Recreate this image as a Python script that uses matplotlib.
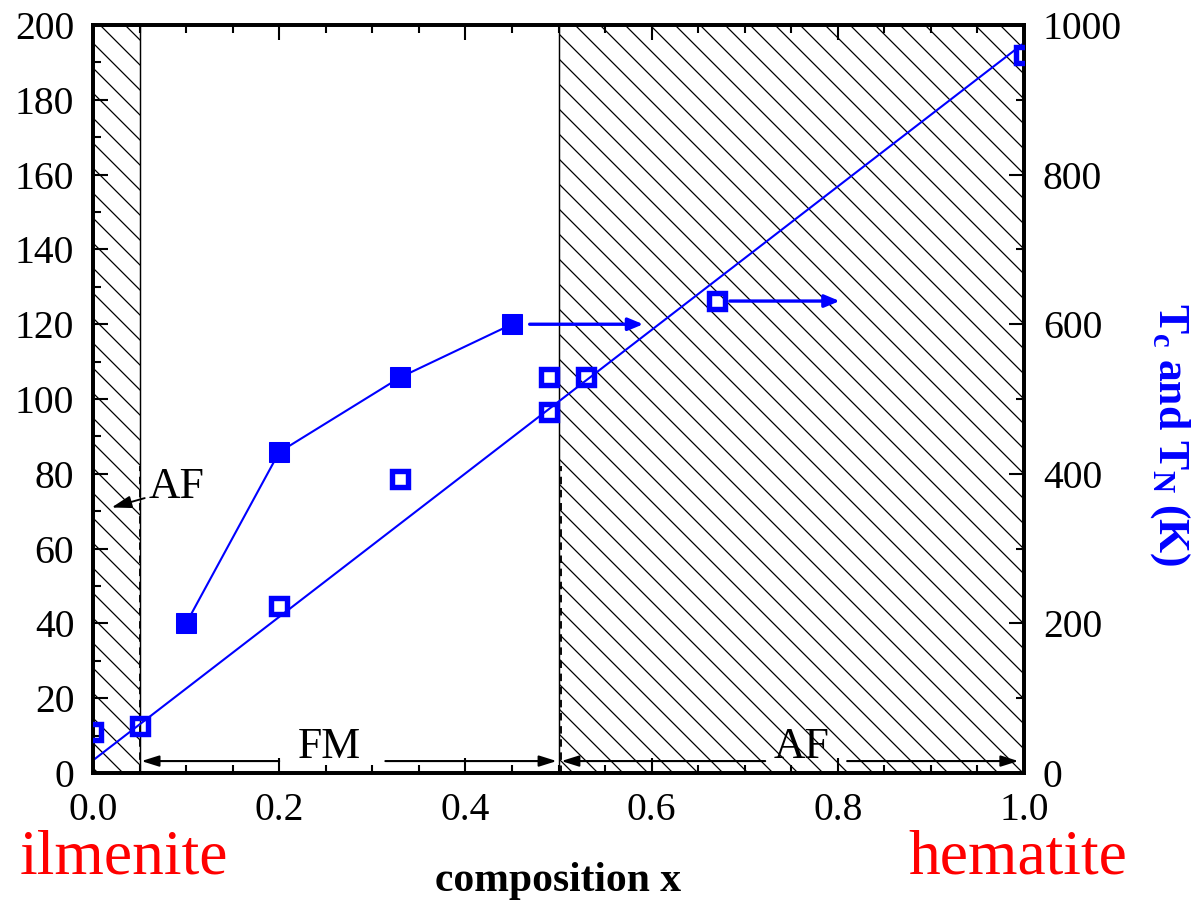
import numpy as np
import matplotlib
matplotlib.use("Agg")
import matplotlib.pyplot as plt
from matplotlib.ticker import MultipleLocator

plt.rcParams['font.family'] = ['Liberation Serif', 'DejaVu Serif']
plt.rcParams['mathtext.fontset'] = 'custom'
plt.rcParams['mathtext.rm'] = 'Liberation Serif'
plt.rcParams['mathtext.it'] = 'Liberation Serif:italic'
plt.rcParams['mathtext.bf'] = 'Liberation Serif:bold'
plt.rcParams['hatch.linewidth'] = 0.6

# ordering temperatures (K) vs composition x
x_filled = [0.10, 0.20, 0.33, 0.45]
t_filled = [200, 429, 529, 600]
x_open = [0.0, 0.05, 0.20, 0.33, 0.49, 0.49, 0.53, 0.67, 1.0]
t_open = [55, 63, 223, 393, 483, 529, 529, 631, 960]
# straight line through the open points
fit_x = [0.0, 1.0]
fit_t = [17, 976]

# phase regions (composition ranges)
af_low = (0.0, 0.05)
af_high = (0.5, 1.0)

# "-> right axis" arrows (tail x, head x, T)
arrow_tails = [0.469, 0.684]
arrow_heads = [0.591, 0.802]
arrow_t = [600, 631]

BLUE = (0, 0, 1)

fig = plt.figure(figsize=(1197 / 150, 907 / 150), dpi=150)
ax = fig.add_axes([0.0777, 0.1477, 0.7778, 0.8247])
ax2 = ax.twinx()

# hatched AF regions
for lo, hi in (af_low, af_high):
    ax.axvspan(lo, hi, facecolor='none', edgecolor='black', hatch='\\\\',
               lw=0.7, zorder=0)
ax.vlines([af_low[1], af_high[0] + 0.003], 0, 82, colors='black',
          linestyles=(0, (4, 3)), lw=0.9)

ax.set_xlim(0, 1.0)
ax.set_ylim(0, 200)
ax2.set_ylim(0, 1000)

# data on the temperature axis
ax2.plot(fit_x, fit_t, color=BLUE, lw=1.0, zorder=2)
ax2.plot(x_filled, t_filled, color=BLUE, lw=1.0, marker='s', ms=10,
         mfc=BLUE, mec=BLUE, mew=0.5, zorder=3)
ax2.plot(x_open, t_open, ls='none', marker='s', ms=7.4, mfc='none',
         mec=BLUE, mew=2.6, zorder=3)

for x0, x1, t in zip(arrow_tails, arrow_heads, arrow_t):
    ax2.annotate('', xy=(x1, t), xytext=(x0, t),
                 arrowprops=dict(arrowstyle='-|>,head_length=0.6,head_width=0.25',
                                 color=BLUE, lw=1.6, shrinkA=0, shrinkB=0))

# phase labels with arrows along the bottom
black_arrow = dict(arrowstyle='-|>,head_length=0.7,head_width=0.22',
                   color='black', lw=1.0, shrinkA=0, shrinkB=0)
y_arr = 3.2
for x0, x1 in ((0.20, 0.052), (0.314, 0.498), (0.722, 0.503), (0.81, 0.994)):
    ax.annotate('', xy=(x1, y_arr), xytext=(x0, y_arr), arrowprops=black_arrow)
ax.text(0.254, 4.0, 'FM', fontsize=21, ha='center', va='baseline')
ax.text(0.761, 4.0, 'AF', fontsize=21, ha='center', va='baseline')
ax.annotate('AF', xy=(0.020, 71), xytext=(0.060, 76.5), fontsize=21,
            ha='left', va='center',
            arrowprops=dict(arrowstyle='-|>,head_length=0.8,head_width=0.25',
                            color='black', lw=0.9, shrinkA=0, shrinkB=0,
                            mutation_scale=10, relpos=(0, 0.25)))

# ticks
ax.xaxis.set_major_locator(MultipleLocator(0.2))
ax.xaxis.set_minor_locator(MultipleLocator(0.05))
ax.yaxis.set_major_locator(MultipleLocator(20))
ax.yaxis.set_minor_locator(MultipleLocator(10))
ax2.yaxis.set_major_locator(MultipleLocator(200))
ax2.yaxis.set_minor_locator(MultipleLocator(100))
ax.xaxis.set_major_formatter(plt.FuncFormatter(lambda v, p: f'{v:.1f}'))

ax.tick_params(which='both', direction='in', top=True, right=False, width=1.0,
               labelsize=19)
ax.tick_params(which='major', length=7)
ax.tick_params(which='minor', length=3.8)
ax.tick_params(axis='x', pad=9)
ax.tick_params(axis='y', pad=9)
ax2.tick_params(which='both', direction='in', width=1.0, labelsize=19, pad=9)
ax2.tick_params(which='major', length=7)
ax2.tick_params(which='minor', length=3.8)

for a in (ax, ax2):
    for s in a.spines.values():
        s.set_linewidth(1.8)

ax.set_xlabel('composition x', fontsize=20, fontweight='bold', labelpad=16)
ax2.set_ylabel(r'T$_\mathregular{c}$ and T$_\mathregular{N}$ (K)', color=BLUE,
               fontsize=21, fontweight='bold', rotation=270, va='center')
ax2.yaxis.set_label_coords(1.157, 0.452)

fig.text(0.016, 0.037, 'ilmenite', color='red', fontsize=30.5,
         ha='left', va='baseline')
fig.text(0.9415, 0.037, 'hematite', color='red', fontsize=30.5,
         ha='right', va='baseline')

fig.savefig('out.png', dpi=150)
